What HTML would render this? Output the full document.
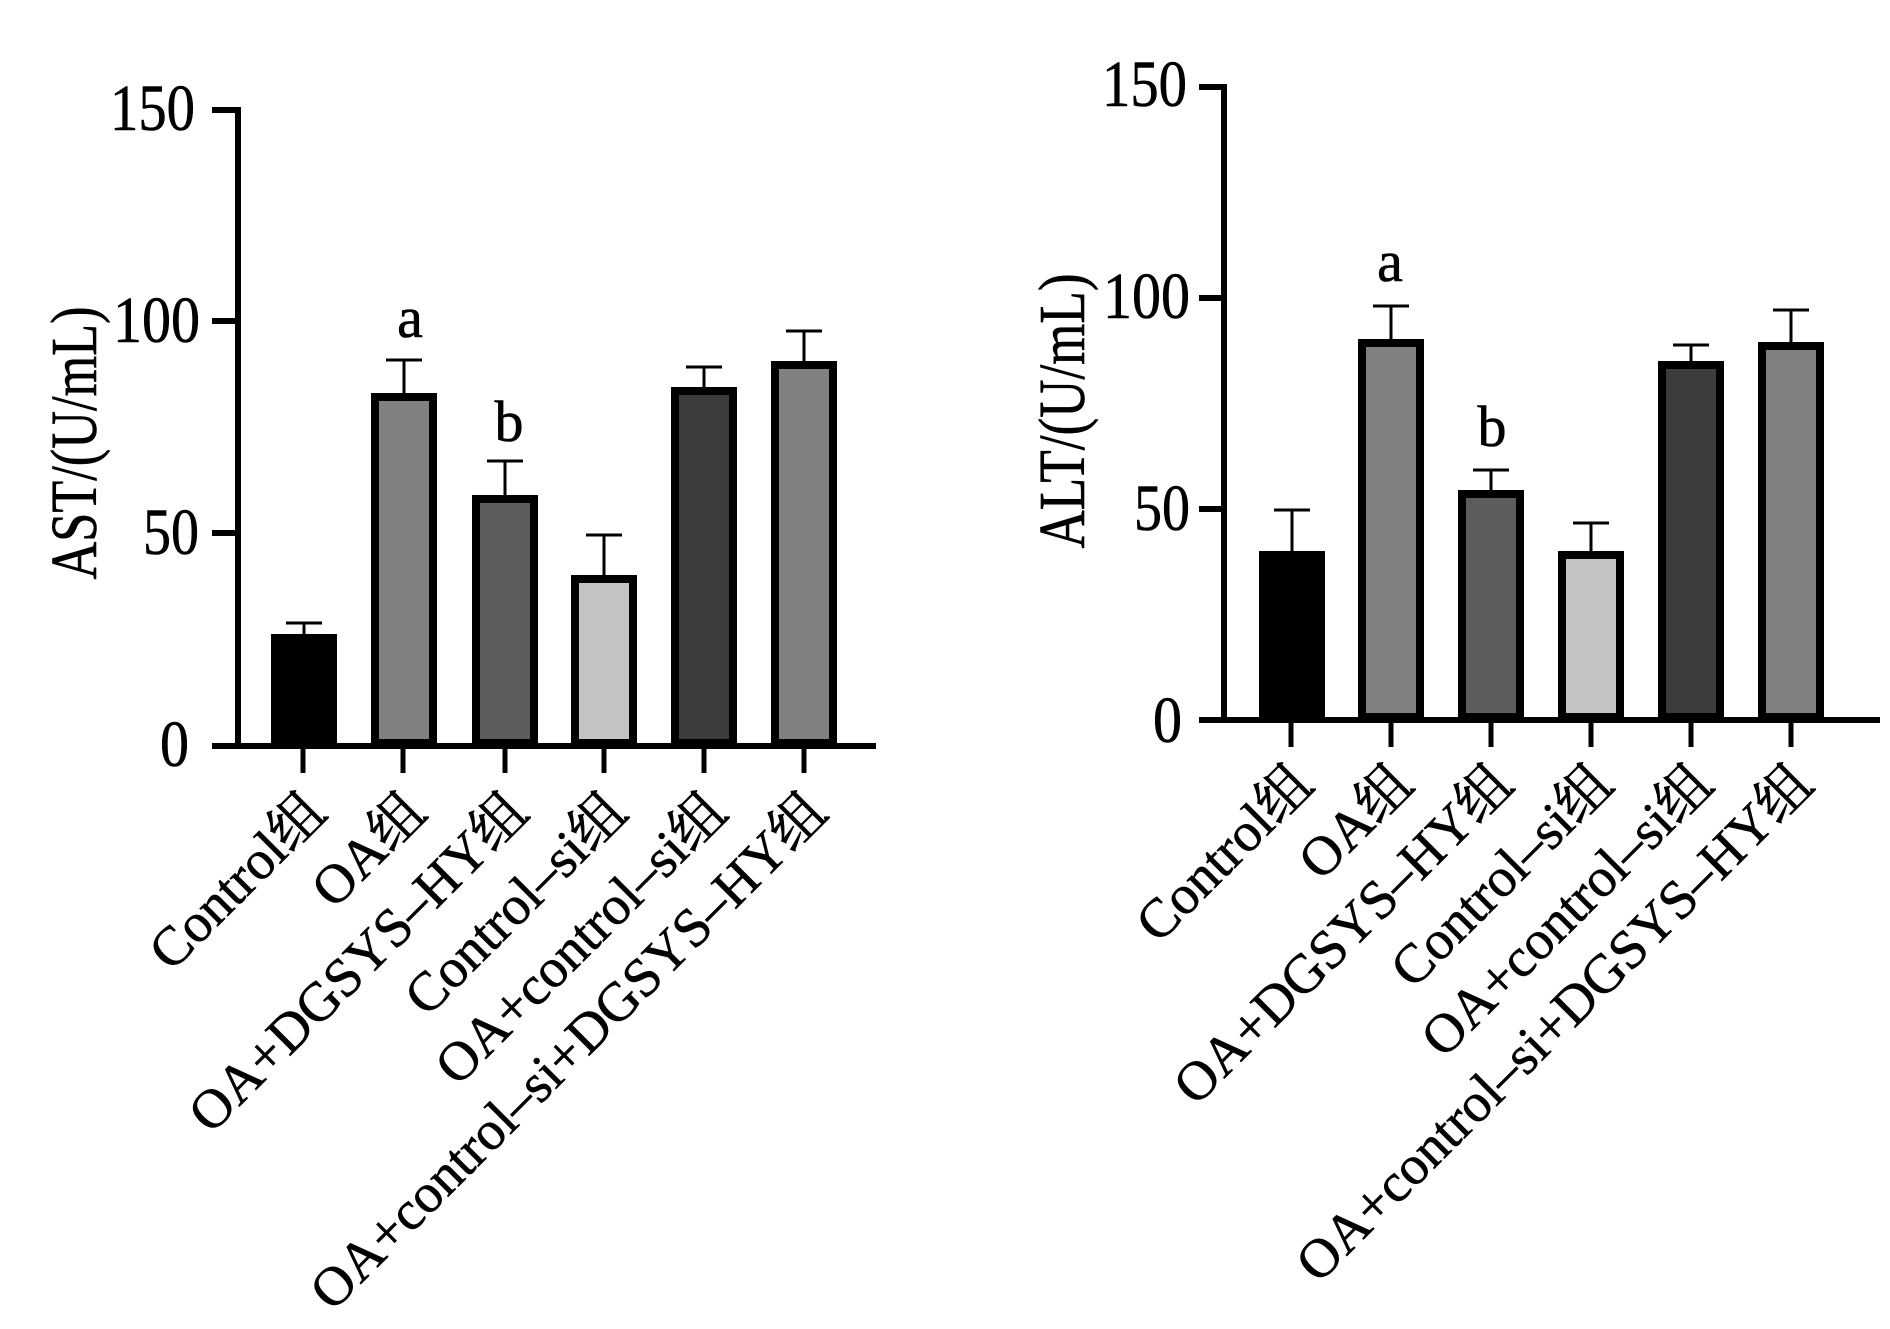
<!DOCTYPE html>
<html><head><meta charset="utf-8"><style>
html,body{margin:0;padding:0;background:#fff;}
svg{display:block;}
text{font-family:"Liberation Serif","Noto Serif CJK SC",serif;fill:#000;stroke:#000;stroke-width:0.6;}
</style></head><body>
<svg width="1890" height="1329" viewBox="0 0 1890 1329" xmlns="http://www.w3.org/2000/svg">
<g>
  <rect x="271" y="634" width="66" height="111" fill="#000"/>
  <rect x="375" y="397" width="58" height="346" fill="#808080" stroke="#000" stroke-width="8"/>
  <rect x="476" y="499" width="58" height="244" fill="#5c5c5c" stroke="#000" stroke-width="8"/>
  <rect x="575" y="579" width="58" height="164" fill="#c4c4c4" stroke="#000" stroke-width="8"/>
  <rect x="675" y="391" width="58" height="352" fill="#3c3c3c" stroke="#000" stroke-width="8"/>
  <rect x="775" y="365" width="58" height="378" fill="#808080" stroke="#000" stroke-width="8"/>
  <g stroke="#000" stroke-width="3">
    <line x1="304" y1="623" x2="304" y2="634"/><line x1="286" y1="623" x2="322" y2="623"/>
    <line x1="404" y1="360" x2="404" y2="393"/><line x1="386" y1="360" x2="422" y2="360"/>
    <line x1="505" y1="461" x2="505" y2="495"/><line x1="487" y1="461" x2="523" y2="461"/>
    <line x1="604" y1="535" x2="604" y2="575"/><line x1="586" y1="535" x2="622" y2="535"/>
    <line x1="704" y1="367" x2="704" y2="387"/><line x1="686" y1="367" x2="722" y2="367"/>
    <line x1="804" y1="331" x2="804" y2="361"/><line x1="786" y1="331" x2="822" y2="331"/>
  </g>
  <g stroke="#000" stroke-width="6">
    <line x1="238" y1="107" x2="238" y2="748"/>
    <line x1="212" y1="746" x2="876" y2="746"/>
    <line x1="212" y1="110" x2="238" y2="110"/>
    <line x1="212" y1="321" x2="238" y2="321"/>
    <line x1="212" y1="533" x2="238" y2="533"/>
  </g>
  <g stroke="#000" stroke-width="5">
    <line x1="303" y1="746" x2="303" y2="773"/><line x1="403" y1="746" x2="403" y2="773"/>
    <line x1="505" y1="746" x2="505" y2="773"/><line x1="604" y1="746" x2="604" y2="773"/>
    <line x1="704" y1="746" x2="704" y2="773"/><line x1="804" y1="746" x2="804" y2="773"/>
  </g>
  <g font-size="66">
    <text x="110" y="130" textLength="85" lengthAdjust="spacingAndGlyphs">150</text>
    <text x="113" y="342" textLength="87" lengthAdjust="spacingAndGlyphs">100</text>
    <text x="143" y="554" textLength="56" lengthAdjust="spacingAndGlyphs">50</text>
    <text x="160" y="766" textLength="29" lengthAdjust="spacingAndGlyphs">0</text>
  </g>
  <text x="410" y="337" font-size="58" text-anchor="middle">a</text>
  <text x="509" y="441" font-size="58" text-anchor="middle">b</text>
  <text transform="translate(96,443) rotate(-90)" font-size="66" text-anchor="middle" textLength="273" lengthAdjust="spacingAndGlyphs">AST/(U/mL)</text>
  <g font-size="55" text-anchor="end">
    <text transform="translate(329,815) rotate(-45)">Control组</text>
    <text transform="translate(429,815) rotate(-45)">OA组</text>
    <text transform="translate(531,815) rotate(-45)">OA+DGSYS–HY组</text>
    <text transform="translate(630,815) rotate(-45)">Control–si组</text>
    <text transform="translate(730,815) rotate(-45)">OA+control–si组</text>
    <text transform="translate(830,815) rotate(-45)">OA+control–si+DGSYS–HY组</text>
  </g>
</g>
<g>
  <rect x="1259" y="551" width="66" height="169" fill="#000"/>
  <rect x="1362" y="343" width="58" height="374" fill="#808080" stroke="#000" stroke-width="8"/>
  <rect x="1462" y="494" width="58" height="223" fill="#5c5c5c" stroke="#000" stroke-width="8"/>
  <rect x="1562" y="555" width="58" height="162" fill="#c4c4c4" stroke="#000" stroke-width="8"/>
  <rect x="1662" y="365" width="58" height="352" fill="#3c3c3c" stroke="#000" stroke-width="8"/>
  <rect x="1762" y="346" width="58" height="371" fill="#808080" stroke="#000" stroke-width="8"/>
  <g stroke="#000" stroke-width="3">
    <line x1="1292" y1="510" x2="1292" y2="551"/><line x1="1274" y1="510" x2="1310" y2="510"/>
    <line x1="1391" y1="306" x2="1391" y2="339"/><line x1="1373" y1="306" x2="1409" y2="306"/>
    <line x1="1491" y1="470" x2="1491" y2="490"/><line x1="1473" y1="470" x2="1509" y2="470"/>
    <line x1="1591" y1="523" x2="1591" y2="551"/><line x1="1573" y1="523" x2="1609" y2="523"/>
    <line x1="1691" y1="345" x2="1691" y2="361"/><line x1="1673" y1="345" x2="1709" y2="345"/>
    <line x1="1791" y1="310" x2="1791" y2="342"/><line x1="1773" y1="310" x2="1809" y2="310"/>
  </g>
  <g stroke="#000" stroke-width="6">
    <line x1="1224" y1="84" x2="1224" y2="722"/>
    <line x1="1199" y1="720" x2="1880" y2="720"/>
    <line x1="1199" y1="87" x2="1224" y2="87"/>
    <line x1="1199" y1="298" x2="1224" y2="298"/>
    <line x1="1199" y1="509" x2="1224" y2="509"/>
  </g>
  <g stroke="#000" stroke-width="5">
    <line x1="1291" y1="720" x2="1291" y2="747"/><line x1="1391" y1="720" x2="1391" y2="747"/>
    <line x1="1491" y1="720" x2="1491" y2="747"/><line x1="1591" y1="720" x2="1591" y2="747"/>
    <line x1="1691" y1="720" x2="1691" y2="747"/><line x1="1791" y1="720" x2="1791" y2="747"/>
  </g>
  <g font-size="66">
    <text x="1102" y="106" textLength="85" lengthAdjust="spacingAndGlyphs">150</text>
    <text x="1103" y="318" textLength="87" lengthAdjust="spacingAndGlyphs">100</text>
    <text x="1134" y="530" textLength="56" lengthAdjust="spacingAndGlyphs">50</text>
    <text x="1153" y="742" textLength="29" lengthAdjust="spacingAndGlyphs">0</text>
  </g>
  <text x="1390" y="281" font-size="58" text-anchor="middle">a</text>
  <text x="1492" y="446" font-size="58" text-anchor="middle">b</text>
  <text transform="translate(1084,411) rotate(-90)" font-size="66" text-anchor="middle" textLength="275" lengthAdjust="spacingAndGlyphs">ALT/(U/mL)</text>
  <g font-size="55" text-anchor="end">
    <text transform="translate(1316,787) rotate(-45)">Control组</text>
    <text transform="translate(1416,787) rotate(-45)">OA组</text>
    <text transform="translate(1516,787) rotate(-45)">OA+DGSYS–HY组</text>
    <text transform="translate(1616,787) rotate(-45)">Control–si组</text>
    <text transform="translate(1716,787) rotate(-45)">OA+control–si组</text>
    <text transform="translate(1816,787) rotate(-45)">OA+control–si+DGSYS–HY组</text>
  </g>
</g>
</svg>
</body></html>
